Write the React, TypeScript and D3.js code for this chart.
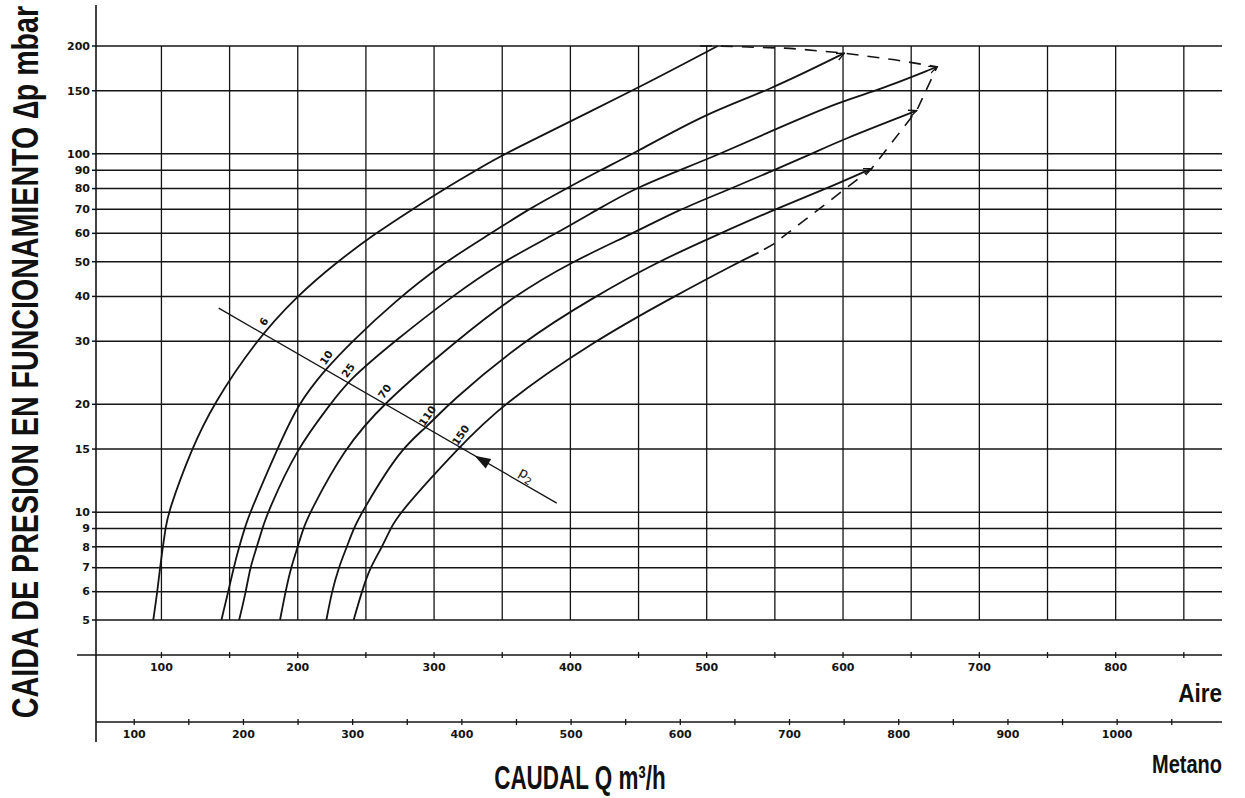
import * as d3 from 'd3';

// Δp grid levels (mbar) and their labels
const pressureTicks = [5, 6, 7, 8, 9, 10, 15, 20, 30, 40, 50, 60, 70, 80, 90, 100, 150, 200];

// air flow (m3/h): grid lines every 50, labels every 100
const aireTicks = [100, 150, 200, 250, 300, 350, 400, 450, 500, 550, 600, 650, 700, 750, 800, 850];
const aireLabels = [100, 200, 300, 400, 500, 600, 700, 800];

// methane flow (m3/h)
const metanoTicks = [100, 150, 200, 250, 300, 350, 400, 450, 500, 550, 600, 650, 700, 750, 800, 850, 900, 950, 1000, 1050];
const metanoLabels = [100, 200, 300, 400, 500, 600, 700, 800, 900, 1000];

// curves: [aire m3/h, Δp mbar] for each inlet pressure p2
const curveP6: [number, number][] = [
  [94, 5], [97, 6], [99, 7], [101, 8], [103, 9], [105, 10], [122, 15], [138, 20], [169, 30], [199, 40],
  [229, 50], [257, 60], [284, 70], [308, 80], [331, 90], [351, 100], [446, 150], [508, 200],
];
const curveP10: [number, number][] = [
  [144, 5], [149, 6], [153, 7], [157, 8], [161, 9], [165, 10], [185, 15], [200, 20], [220, 25], [240, 30],
  [270, 38.4], [308, 50], [342, 60], [369, 70], [397, 80], [422, 90], [446, 100], [500, 130], [545, 150], [601, 191],
];
const curveP25: [number, number][] = [
  [157, 5], [162, 6], [165, 7], [170, 8], [174, 9], [178, 10], [199, 15], [224, 20], [237, 23.3], [271, 30],
  [313, 40], [350, 50], [390, 60], [420, 70], [447, 80], [480, 90], [510, 100], [550, 117], [600, 141], [625, 150], [669, 175],
];
const curveP70: [number, number][] = [
  [187, 5], [191, 6], [195, 7], [200, 8], [204, 9], [209, 10], [234, 15], [262, 20], [316, 30], [358, 40],
  [401, 50], [446, 60], [480, 70], [518, 80], [549, 90], [577, 100], [598, 109], [654, 132],
];
const curveP110: [number, number][] = [
  [221, 5], [225, 6], [230, 7], [236, 8], [241, 9], [247, 10], [275, 15], [295, 17.3], [310, 20], [365, 30],
  [418, 40], [464, 50], [510, 60], [550, 70], [588, 80], [621, 91],
];
const curveP150: [number, number][] = [
  [241, 5], [247, 6], [253, 7], [262, 8], [268, 9], [275, 10], [317, 15], [350, 20], [417, 30], [476, 40],
  [524, 50], [538, 53],
];

const curves = [curveP6, curveP10, curveP25, curveP70, curveP110, curveP150];
const curveLabels = ['6', '10', '25', '70', '110', '150'];
const curveArrow = [false, true, true, true, true, false];

// dashed limit line joining the curve ends
const envelope: [number, number][] = [
  [495, 200], [508, 200], [561, 197], [601, 191], [638, 183], [669, 175], [654, 132], [621, 91], [549, 56], [538, 53],
];

// p2 reading line
const p2Line: [number, number][] = [[142, 37.1], [390, 10.6]];

const W = 1245;
const H = 798;
const left = 96;
const right = 1222;
const top = 46;
const bottom = 620;
const aireAxisY = 655;
const metanoAxisY = 722;

const x = d3.scaleLinear().domain([52, 878]).range([left, right]);
const xm = d3.scaleLinear().domain([65, 1096]).range([left, right]);
const y = d3.scaleLog().domain([5, 200]).range([bottom, top]);

const line = d3
  .line<[number, number]>()
  .x((d) => x(d[0]))
  .y((d) => y(d[1]))
  .curve(d3.curveBasis);

const ink = '#141414';
const tickFont = "'DejaVu Sans', sans-serif";
const titleFont = "'Liberation Sans', Arial, sans-serif";

// where the p2 line crosses a curve (pixel space)
const crossing = (pts: [number, number][]) => {
  const [a, b] = p2Line.map((d) => [x(d[0]), y(d[1])]);
  for (let i = 0; i < pts.length - 1; i++) {
    const c = [x(pts[i][0]), y(pts[i][1])];
    const e = [x(pts[i + 1][0]), y(pts[i + 1][1])];
    const r = [b[0] - a[0], b[1] - a[1]];
    const s = [e[0] - c[0], e[1] - c[1]];
    const den = r[0] * s[1] - r[1] * s[0];
    if (Math.abs(den) < 1e-9) continue;
    const t = ((c[0] - a[0]) * s[1] - (c[1] - a[1]) * s[0]) / den;
    const u = ((c[0] - a[0]) * r[1] - (c[1] - a[1]) * r[0]) / den;
    if (t >= 0 && t <= 1 && u >= 0 && u <= 1) {
      return [a[0] + t * r[0], a[1] + t * r[1]];
    }
  }
  return null;
};

export default function App() {
  const [pa, pb] = p2Line.map((d) => [x(d[0]), y(d[1])]);
  const angle = (Math.atan2(pb[1] - pa[1], pb[0] - pa[0]) * 180) / Math.PI;
  const along = (t: number) => [pa[0] + (pb[0] - pa[0]) * t, pa[1] + (pb[1] - pa[1]) * t];
  const arrowAt = along(0.78);
  const labelAt = along(0.91);

  return (
    <div style={{ position: 'absolute', left: 0, top: 0 }}>
      <svg width={W} height={H} style={{ display: 'block', background: '#fff' }}>
        <defs>
          <marker
            id="openArrow"
            viewBox="0 0 10 10"
            refX="9"
            refY="5"
            markerWidth="9"
            markerHeight="9"
            markerUnits="userSpaceOnUse"
            orient="auto"
          >
            <path d="M0,1 L9,5 L0,9" fill="none" stroke={ink} strokeWidth={1.4} />
          </marker>
        </defs>

        {/* horizontal grid */}
        {pressureTicks.map((v) => (
          <g key={`h${v}`}>
            <line x1={left} x2={right} y1={y(v)} y2={y(v)} stroke={ink} strokeWidth={1.5} />
            <line x1={left - 4} x2={left} y1={y(v)} y2={y(v)} stroke={ink} strokeWidth={1.5} />
            <text
              x={left - 6}
              y={y(v)}
              dy="0.35em"
              textAnchor="end"
              fontFamily={tickFont}
              fontWeight="bold"
              fontSize={11}
              fill={ink}
            >
              {v}
            </text>
          </g>
        ))}

        {/* vertical grid */}
        {aireTicks.map((v) => (
          <line key={`v${v}`} x1={x(v)} x2={x(v)} y1={top} y2={bottom} stroke={ink} strokeWidth={1.3} />
        ))}

        {/* left axis */}
        <line x1={left} x2={left} y1={5} y2={742} stroke={ink} strokeWidth={1.6} />

        {/* Aire axis */}
        <line x1={77} x2={right} y1={aireAxisY} y2={aireAxisY} stroke={ink} strokeWidth={1.6} />
        {aireTicks.map((v) => (
          <line key={`at${v}`} x1={x(v)} x2={x(v)} y1={aireAxisY - 3} y2={aireAxisY + 3} stroke={ink} strokeWidth={1.3} />
        ))}
        {aireLabels.map((v) => (
          <text
            key={`al${v}`}
            x={x(v)}
            y={aireAxisY + 16}
            textAnchor="middle"
            fontFamily={tickFont}
            fontWeight="bold"
            fontSize={11}
            fill={ink}
          >
            {v}
          </text>
        ))}

        {/* Metano axis */}
        <line x1={left} x2={right} y1={metanoAxisY} y2={metanoAxisY} stroke={ink} strokeWidth={1.6} />
        {metanoTicks.map((v) => (
          <line key={`mt${v}`} x1={xm(v)} x2={xm(v)} y1={metanoAxisY - 3} y2={metanoAxisY + 3} stroke={ink} strokeWidth={1.3} />
        ))}
        {metanoLabels.map((v) => (
          <text
            key={`ml${v}`}
            x={xm(v)}
            y={metanoAxisY + 16}
            textAnchor="middle"
            fontFamily={tickFont}
            fontWeight="bold"
            fontSize={11}
            fill={ink}
          >
            {v}
          </text>
        ))}

        {/* curves */}
        {curves.map((c, i) => (
          <path
            key={`c${i}`}
            d={line(c) ?? ''}
            fill="none"
            stroke={ink}
            strokeWidth={1.8}
            markerEnd={curveArrow[i] ? 'url(#openArrow)' : undefined}
          />
        ))}

        {/* dashed limit line */}
        <path
          d={d3.line<[number, number]>().x((d) => x(d[0])).y((d) => y(d[1]))(envelope) ?? ''}
          fill="none"
          stroke={ink}
          strokeWidth={1.6}
          strokeDasharray="12 9"
        />

        {/* p2 line with labels */}
        <line x1={pa[0]} y1={pa[1]} x2={pb[0]} y2={pb[1]} stroke={ink} strokeWidth={1.3} />
        <path
          d="M-9,0 L7,-5.5 L7,5.5 Z"
          fill={ink}
          transform={`translate(${arrowAt[0]},${arrowAt[1]}) rotate(${angle})`}
        />
        <text
          transform={`translate(${labelAt[0] - 2},${labelAt[1] - 7}) rotate(${angle})`}
          textAnchor="middle"
          fontFamily={tickFont}
          fontSize={14}
          fill={ink}
        >
          p
          <tspan fontSize={10} dy={4}>
            2
          </tspan>
        </text>
        {curves.map((c, i) => {
          const p = crossing(c);
          if (!p) return null;
          return (
            <text
              key={`lab${i}`}
              transform={`translate(${p[0] + 1},${p[1] - 12}) rotate(-55)`}
              textAnchor="middle"
              dominantBaseline="central"
              fontFamily={tickFont}
              fontWeight="bold"
              fontSize={10.5}
              fill={ink}
            >
              {curveLabels[i]}
            </text>
          );
        })}

        {/* titles: condensed look via horizontal scale */}
        <text
          transform="translate(38,362) rotate(-90) scale(0.795,1)"
          textAnchor="middle"
          fontFamily={titleFont}
          fontWeight="bold"
          fontSize={36}
          fill="#111"
        >
          CAIDA DE PRESION EN FUNCIONAMIENTO ∆p mbar
        </text>
        <text
          transform="translate(580,789) scale(0.66,1)"
          textAnchor="middle"
          fontFamily={titleFont}
          fontWeight="bold"
          fontSize={34}
          fill="#111"
        >
          CAUDAL Q m³/h
        </text>
        <text
          transform={`translate(${right},702) scale(0.9,1)`}
          textAnchor="end"
          fontFamily={titleFont}
          fontWeight="bold"
          fontSize={25}
          fill="#111"
        >
          Aire
        </text>
        <text
          transform={`translate(${right},773) scale(0.8,1)`}
          textAnchor="end"
          fontFamily={titleFont}
          fontWeight="bold"
          fontSize={25}
          fill="#111"
        >
          Metano
        </text>
      </svg>
    </div>
  );
}
